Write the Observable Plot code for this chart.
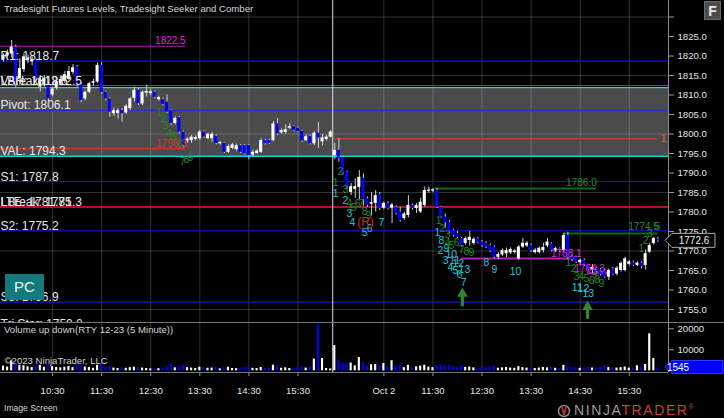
<!DOCTYPE html>
<html>
<head>
<meta charset="utf-8">
<script src="https://cdn.jsdelivr.net/npm/d3@7"></script>
<script src="https://cdn.jsdelivr.net/npm/@observablehq/plot@0.6"></script>
<style>
html,body{margin:0;padding:0;background:#000;}
#wrap{position:relative;width:724px;height:418px;background:#000;overflow:hidden;font-family:"Liberation Sans",Arial,sans-serif;}
#wrap > svg{position:absolute;left:0;}
.ov{position:absolute;white-space:nowrap;line-height:1;}
[aria-label="y-axis tick"] path,[aria-label="x-axis tick"] path,[aria-label="y-axis tick"],[aria-label="x-axis tick"]{stroke:#9a9a9a;}
</style>
</head>
<body>
<div id="wrap"></div>
<script>
// ---------------- DATA ----------------
const opens = [1819.0,1820.0,1820.5,1822.3,1814.2,1816.5,1818.8,1818.5,1818.8,1812.0,1812.5,1813.0,1810.0,1811.8,1812.8,1813.5,1814.0,1815.8,1817.1,1812.8,1809.0,1810.7,1813.0,1813.3,1817.6,1810.7,1809.0,1805.2,1805.3,1806.0,1805.4,1806.5,1809.1,1811.2,1807.7,1810.5,1810.4,1810.7,1808.8,1808.8,1808.2,1806.0,1802.7,1804.2,1800.5,1798.2,1798.3,1798.6,1798.8,1800.5,1798.8,1798.8,1799.4,1797.5,1797.6,1795.3,1796.3,1796.0,1797.0,1797.0,1797.0,1794.6,1795.0,1795.3,1798.3,1798.3,1798.3,1802.6,1800.3,1800.4,1801.5,1801.9,1801.5,1800.7,1798.3,1799.3,1797.5,1800.2,1798.0,1798.6,1799.2,
1794.5,1795.8,1794.0,1790.2,1785.0,1785.8,1786.3,1788.6,1783.4,1782.0,1782.2,1784.5,1781.0,1782.2,1781.0,1781.2,1780.0,1778.3,1779.1,1781.7,1780.9,1780.0,1781.7,1785.3,1785.4,1785.5,1781.2,1778.7,1777.4,1775.3,1774.5,1773.2,1771.9,1772.7,1771.9,1773.2,1772.3,1772.0,1771.4,1771.0,1768.4,1769.0,1769.3,1769.5,1769.6,1768.0,1771.0,1771.3,1771.4,1769.6,1769.6,1770.1,1771.3,1771.8,1770.0,1770.5,1770.1,1774.0,1768.5,1768.4,1767.0,1767.6,1766.3,1765.0,1765.6,1765.2,1765.0,1763.3,1765.4,1764.1,1765.0,1765.0,1766.6,1767.0,1766.3,1766.9,1766.3,1769.7,1771.9,1773.0];
const highs = [1820.5,1821.5,1824.0,1822.8,1819.3,1820.5,1820.2,1819.8,1819.2,1815.0,1815.0,1813.5,1812.0,1814.0,1815.0,1816.0,1817.3,1817.8,1817.6,1813.2,1811.0,1813.3,1814.0,1818.2,1818.3,1811.0,1809.3,1806.7,1806.5,1806.5,1807.5,1809.3,1812.0,1811.6,1811.0,1812.5,1811.5,1811.0,1809.7,1809.2,1810.0,1806.3,1804.4,1804.5,1800.8,1799.0,1799.6,1799.5,1800.9,1800.8,1800.2,1800.4,1799.8,1798.0,1797.8,1797.2,1797.6,1797.4,1797.3,1797.3,1797.3,1795.9,1796.0,1798.8,1798.6,1798.6,1803.2,1804.0,1801.3,1802.4,1802.7,1802.1,1801.8,1801.0,1799.8,1799.7,1800.6,1803.0,1799.9,1799.6,1800.9,
1797.6,1798.8,1794.3,1790.5,1787.3,1788.5,1790.6,1789.8,1783.8,1785.0,1785.5,1785.0,1782.6,1782.6,1782.2,1781.6,1781.2,1779.9,1784.2,1782.0,1782.2,1783.5,1786.4,1786.4,1786.0,1786.0,1781.5,1779.5,1777.8,1775.6,1775.0,1773.5,1773.6,1775.0,1773.4,1773.5,1772.7,1772.4,1771.8,1771.3,1769.6,1770.5,1770.7,1770.8,1770.4,1771.4,1773.2,1772.4,1771.8,1770.6,1771.0,1772.0,1773.2,1772.1,1771.0,1770.8,1774.6,1774.8,1769.0,1768.7,1767.9,1768.0,1766.6,1766.5,1765.9,1765.5,1765.3,1765.4,1765.8,1766.0,1767.2,1768.4,1767.6,1767.4,1767.2,1767.2,1770.3,1772.0,1773.5,1773.5];
const lows = [1818.5,1819.5,1819.5,1811.8,1812.5,1815.8,1818.0,1817.5,1813.5,1810.8,1812.0,1808.2,1809.5,1811.2,1812.4,1813.0,1813.7,1815.2,1812.0,1808.0,1808.5,1810.3,1812.3,1813.0,1810.3,1808.5,1804.3,1804.5,1803.8,1803.0,1805.0,1806.0,1808.2,1807.3,1807.3,1809.5,1809.8,1809.0,1808.4,1807.2,1805.2,1802.3,1802.3,1800.0,1796.4,1797.6,1797.6,1798.2,1798.3,1798.9,1798.5,1797.9,1797.2,1797.2,1795.0,1795.0,1796.0,1795.6,1795.0,1794.6,1793.4,1794.0,1794.8,1795.0,1797.2,1797.3,1798.0,1799.6,1800.0,1799.9,1801.1,1800.6,1800.3,1797.8,1798.0,1797.2,1797.0,1796.3,1796.9,1798.2,1799.0,
1793.4,1792.8,1789.5,1785.8,1784.2,1783.5,1783.2,1781.5,1781.2,1779.0,1780.0,1780.4,1780.6,1780.5,1777.0,1779.2,1777.4,1777.9,1778.5,1780.5,1779.6,1779.6,1781.2,1784.8,1785.0,1780.9,1778.3,1775.8,1774.4,1773.6,1773.2,1771.0,1771.5,1771.2,1771.5,1771.8,1771.0,1770.6,1769.6,1768.0,1767.8,1768.6,1768.3,1769.1,1769.2,1767.6,1770.6,1770.9,1769.7,1769.2,1769.2,1769.5,1770.8,1769.8,1769.6,1769.6,1769.6,1767.7,1767.3,1766.8,1766.2,1766.0,1764.9,1764.2,1764.4,1763.6,1763.0,1762.4,1763.7,1763.6,1764.6,1764.6,1766.2,1766.0,1766.0,1765.4,1765.1,1769.4,1771.5,1772.2];
const closes = [1820.0,1820.8,1822.3,1812.5,1816.8,1819.8,1819.5,1819.0,1814.0,1814.0,1814.2,1809.0,1811.5,1813.3,1814.0,1815.2,1816.0,1817.0,1812.5,1808.6,1810.7,1812.9,1813.4,1817.6,1810.7,1809.0,1805.6,1806.0,1806.0,1805.2,1807.1,1809.0,1811.2,1807.8,1810.7,1810.9,1810.8,1809.4,1809.3,1807.6,1805.6,1802.7,1804.0,1800.5,1797.0,1798.7,1799.2,1799.1,1800.5,1799.2,1799.9,1799.9,1797.6,1797.8,1795.3,1796.8,1797.2,1797.0,1795.3,1794.9,1794.5,1795.3,1795.6,1798.3,1797.5,1797.6,1802.6,1800.0,1800.9,1801.1,1801.9,1800.9,1800.6,1798.2,1799.3,1797.5,1800.2,1799.0,1799.0,1799.2,1800.5,
1795.8,1793.6,1790.0,1786.4,1786.5,1786.5,1788.9,1783.2,1781.7,1782.4,1784.2,1780.9,1782.2,1780.9,1781.8,1779.6,1777.8,1779.5,1781.7,1780.9,1781.7,1782.5,1785.5,1785.6,1785.7,1781.2,1778.7,1777.2,1774.8,1774.0,1773.5,1771.4,1773.2,1773.5,1773.0,1772.2,1771.4,1771.0,1770.0,1768.4,1769.1,1770.1,1770.1,1770.4,1770.0,1771.0,1772.0,1772.0,1770.1,1770.2,1770.7,1770.9,1772.3,1770.1,1770.6,1770.0,1774.0,1768.4,1767.8,1767.1,1767.6,1766.3,1765.2,1765.8,1764.7,1764.0,1763.3,1765.0,1764.0,1765.6,1766.8,1768.0,1767.2,1766.3,1766.9,1766.0,1769.3,1771.4,1773.2,1772.6];
const volumes = [2200,1800,4700,3200,2600,2400,1900,1500,2300,2600,1700,2800,1900,1600,1400,1700,2100,1500,2900,2400,1800,1600,1200,2600,2700,1500,2100,1300,1100,1400,1200,1500,1700,1500,1300,1100,900,1200,1000,1300,2000,3500,1400,2300,2800,1500,1300,1100,1700,1400,1200,1300,1600,900,1800,1700,1100,1000,1300,1500,2000,1200,1100,1600,1200,1300,2700,2200,1200,1400,1100,1300,1400,1900,1300,2000,5600,21900,5900,1100,900,
12000,4800,3700,3600,3700,2400,6300,3700,2200,2900,3000,2300,3500,2000,4800,2300,2600,1500,2600,1600,1900,2200,2700,1800,1500,2800,2500,2200,2600,2000,1700,2400,1600,1800,1400,1300,1600,1500,1700,2300,1200,1400,1600,1300,1200,2000,1500,1300,1400,1100,1300,1600,1400,1500,1200,1000,2600,2400,1500,1600,1200,1500,1700,1300,1400,1600,2400,1500,1400,1300,1500,1800,1300,1200,2400,1900,3000,17600,5900,1545];

// time axis
const tickIdx = [12,24,36,48,60,72,93,105,117,129,141,153];
const tickLabels = ["10:30","11:30","12:30","13:30","14:30","15:30","Oct 2","11:30","12:30","13:30","14:30","15:30"];
const sessionBreak = [80.5];
const yTickValues = [1755,1760,1765,1770,1775,1780,1785,1790,1795,1800,1805,1810,1815,1820,1825,1830];
const yTickLabels = ["1755.0","1760.0","1765.0","1770.0","1775.0","1780.0","1785.0","1790.0","1795.0","1800.0","1805.0","1810.0","1815.0","1820.0","1825.0",""];
const gridPrices = [1755,1770,1785,1800,1815,1830];
const volTickValues = [10000,20000];
const volTickLabels = ["10000","20000"];

// full width levels
const levelPrice = [1818.7,1812.4,1811.9,1806.1,1794.3,1787.8,1781.3,1775.2,1756.9];
const levelColor = ["#1010ee","#9a3a9a","#00e0e8","#3030c8","#00e0e8","#1818c0","#e8173e","#1818d0","#1818d0"];
const levelWidth = [1.2,1,1.3,2,1.3,1,1.6,1,1.2];
const levelLabel = ["R1: 1818.7","VAH: 1812.5","LBreak: 1812.5","Pivot: 1806.1","VAL: 1794.3","S1: 1787.8","LBreak: 1781.3","LTE: 1781.75","S2: 1775.2","S3: 1756.9","Tri Star: 1750.0"];
const levelLabelPrice = [1818.7,1812.4,1812.4,1806.1,1794.3,1787.8,1781.3,1781.3,1775.2,1756.9,1750.0];
const valueArea = [1794.3, 1811.9];
// partial segments
const segPrice = [1822.5,1796.3,1798.8,1786.0,1774.5,1768.1,1764.3];
const segFrom = [-0.8,-0.8,81,105.5,137,112,142.8];
const segTo = [44.5,44.5,160,145,160,140,147.7];
const segColor = ["#b01cb0","#c83030","#c83a3a","#0f6a12","#0f6a12","#b21fb2","#c21fc2"];
const segDash = ["1.5,1.5",null,null,null,null,"2,2","2,1"];
const segWidth = [1.2,2,1.5,2,2,2,2];
// value labels
const valText = ["1822.5","1796.3","1786.0","1774.5","1768.1","1764.3","1"];
const valIdx = [40.8,41.1,141.3,156.5,137.6,143.3,161.4];
const valPrice = [1824.0,1797.6,1787.6,1776.3,1769.4,1765.5,1798.8];
const valColor = ["#e020e0","#e23030","#2a8a2a","#2a8a2a","#e020e0","#e020e0","#e07020"];
// counts
const greenText = ["1","2","3","4","5","6","7","8","9", "2","1","3","4","5","6","7","8","9", "1","2","3","4","5","6","7","8","9", "1","2","3","4","5","6","7","8","9", "1","2","3","5"];
const greenIdx = [38.1,39.1,39.6,40.6,41.6,43.3,43.8,44.7,45.7, 82.4,81.2,83.6,84.6,85.6,86.6,87.5,88.3,89.2, 106.4,107.3,108.6,108.6,109.5,110.8,112.0,113.2,114.4, 138.1,139.4,140.1,141.3,142.5,143.8,144.5,145.2,146.2, 156.0,157.0,158.0,159.9];
const greenPrice = [1805.5,1804.0,1802.2,1800.1,1799.4,1797.3,1793.0,1793.5,1794.0, 1790.4,1787.6,1785.8,1782.2,1781.2,1782.2,1782.2,1780.1,1779.1, 1777.8,1775.8,1774.2,1772.2,1771.4,1772.2,1770.4,1769.9,1769.6, 1767.1,1765.5,1763.5,1763.5,1763.0,1762.4,1763.0,1762.7,1761.7, 1770.6,1772.7,1774.5,1776.3];
const cyanText = ["1","2","3","4","5","6","7", "1","8","2","9","10","3","11","4","5","6","12","13","7","8","9","10", "11","12","13"];
const cyanIdx = [81.2,83.6,84.6,85.3,88.3,89.5,92.4, 106.1,107.1,106.8,108.3,109.5,108.1,110.3,109.3,110.5,111.5,111.2,112.7,112.5,118.1,120.0,125.2, 140.3,141.8,143.0];
const cyanPrice = [1784.7,1783.0,1779.6,1777.3,1774.7,1775.8,1777.3, 1774.7,1772.7,1770.1,1770.6,1769.1,1767.6,1767.6,1765.8,1765.0,1764.0,1766.8,1765.3,1761.9,1767.1,1765.3,1764.7, 1760.6,1760.4,1759.1];
const resetText = ["(R)"], resetIdx = [88.5], resetPrice = [1777.3];
// signal arrows
const arrowIdx = [112.2, 142.8];
const arrowFrom = [1755.8, 1752.6];
const arrowTo = [1759.3, 1755.9];
const lastPrice = 1772.6;
const lastVolume = 1545;

// ---------------- LAYOUT ----------------
const W = 724, PRICE_H = 322, AXIS_X = 668, BAR = 4.09, X0 = 3;
const xDomain = [-X0 / BAR, (AXIS_X - X0) / BAR];
const yDomain = [1825 - (PRICE_H - 36) / 3.9, 1825 + 36 / 3.9];
const volDomain = [-810, 23000];
const UP = "#ffffff", DOWN = "#0000ff";
const FONT = "Liberation Sans, Arial, sans-serif";

const bars = opens.map((o, i) => ({i, open: o, high: highs[i], low: lows[i], close: closes[i], vol: volumes[i], color: closes[i] >= o ? UP : DOWN}));
const levels = levelPrice.map((p, k) => ({p, c: levelColor[k], w: levelWidth[k]}));
const lvlLabels = levelLabel.map((t, k) => ({t, p: levelLabelPrice[k]}));
const segs = segPrice.map((p, k) => ({p, a: segFrom[k], b: segTo[k], c: segColor[k], d: segDash[k], w: segWidth[k]}));
const vals = valText.map((t, k) => ({t, x: valIdx[k], y: valPrice[k], c: valColor[k]}));
const greens = greenText.map((t, k) => ({t, x: greenIdx[k], y: greenPrice[k]}));
const cyans = cyanText.map((t, k) => ({t, x: cyanIdx[k], y: cyanPrice[k]}));
const resets = resetText.map((t, k) => ({t, x: resetIdx[k], y: resetPrice[k]}));
const arrows = arrowIdx.map((x, k) => ({x, y1: arrowFrom[k], y2: arrowTo[k]}));

const price = Plot.plot({
  width: W, height: PRICE_H,
  marginTop: 0, marginBottom: 0, marginLeft: 0, marginRight: W - AXIS_X,
  x: {domain: xDomain, axis: null},
  y: {domain: yDomain, axis: "right", ticks: yTickValues, tickFormat: d => yTickLabels[yTickValues.indexOf(d)], tickSize: 5, tickPadding: 4, label: null},
  color: {type: "identity"},
  style: {background: "#000", color: "#e4e4e4", fontFamily: FONT, fontSize: "9.6px", overflow: "hidden"},
  marks: [
    Plot.rect([0], {x1: xDomain[0], x2: xDomain[1], y1: valueArea[0], y2: valueArea[1], fill: "#4b4b4b"}),
    Plot.ruleX(tickIdx, {stroke: "#fff", strokeOpacity: 0.19}),
    Plot.ruleY(gridPrices, {x1: xDomain[0], x2: xDomain[1], stroke: "#fff", strokeOpacity: 0.19}),
    Plot.ruleY(levels, {y: "p", x1: xDomain[0], x2: xDomain[1], stroke: "c", strokeWidth: "w"}),
    Plot.ruleY(segs, {y: "p", x1: "a", x2: "b", stroke: "c", strokeWidth: "w", strokeDasharray: d => d.d}),
    Plot.ruleX(sessionBreak, {stroke: "#e0e0e0"}),
    Plot.ruleX(bars, {x: "i", y1: "low", y2: "high", stroke: "#cfcfcf", strokeWidth: 1}),
    Plot.rect(bars, {x1: d => d.i - 0.37, x2: d => d.i + 0.37, y1: "open", y2: "close", fill: "color"}),
    Plot.text(lvlLabels, {x: xDomain[0], y: "p", text: "t", textAnchor: "start", lineAnchor: "bottom", dy: -1, fill: "#e6e6e6", fontSize: 12}),
    Plot.text(vals, {x: "x", y: "y", text: "t", fill: "c", fontSize: 10}),
    Plot.text(greens, {x: "x", y: "y", text: "t", fill: "#1f8a1f", fontSize: 10.5}),
    Plot.text(cyans, {x: "x", y: "y", text: "t", fill: "#19c9d8", fontSize: 10.5}),
    Plot.text(resets, {x: "x", y: "y", text: "t", fill: "#e01818", fontSize: 12}),
    Plot.link(arrows, {x1: "x", x2: "x", y1: "y1", y2: "y2", stroke: "#2f8a2f", strokeWidth: 3}),
    Plot.dot(arrows, {x: "x", y: "y2", symbol: "triangle", r: 4, fill: "#2f8a2f", dy: 1}),
    Plot.ruleX([xDomain[1]], {stroke: "#8a8a8a"})
  ]
});
price.style.top = "0px";

const vol = Plot.plot({
  width: W, height: 418 - PRICE_H,
  marginTop: 0, marginBottom: 46, marginLeft: 0, marginRight: W - AXIS_X,
  x: {domain: xDomain, ticks: tickIdx, tickFormat: d => tickLabels[tickIdx.indexOf(d)], tickSize: 4, tickPadding: 11, label: null},
  y: {domain: volDomain, axis: "right", ticks: volTickValues, tickFormat: d => volTickLabels[volTickValues.indexOf(d)], tickSize: 5, tickPadding: 4, label: null},
  color: {type: "identity"},
  style: {background: "#000", color: "#e4e4e4", fontFamily: FONT, fontSize: "9.6px", overflow: "hidden"},
  marks: [
    Plot.ruleX(tickIdx, {stroke: "#fff", strokeOpacity: 0.19}),
    Plot.ruleX(sessionBreak, {stroke: "#e0e0e0"}),
    Plot.text(["©2023 NinjaTrader, LLC"], {frameAnchor: "bottom-left", dx: 4, dy: -9, textAnchor: "start", fill: "#cfcfcf", fontSize: 9.6}),
    Plot.rect(bars, {x1: d => d.i - 0.26, x2: d => d.i + 0.26, y1: 0, y2: "vol", fill: "color"}),
    Plot.ruleY([volDomain[0]], {x1: xDomain[0], x2: xDomain[1], stroke: "#777"}),
    Plot.ruleY([volDomain[1]], {x1: xDomain[0], x2: W, stroke: "#777"}),
    Plot.ruleX([xDomain[1]], {stroke: "#8a8a8a"})
  ]
});
vol.style.top = PRICE_H + "px";

const wrap = document.getElementById("wrap");
wrap.appendChild(price);
wrap.appendChild(vol);

// price marker
const py = price.scale("y").apply(lastPrice);
const ps = d3.select(price);
ps.append("path").attr("d", `M665,${py} L672,${py - 7} H715 V${py + 7} H672 Z`).attr("fill", "#000").attr("stroke", "#a8a8a8");
ps.append("text").attr("x", 694).attr("y", py).attr("dy", "0.36em").attr("text-anchor", "middle").attr("fill", "#f0f0f0").attr("font-size", 10).text(lastPrice.toFixed(1));
// volume marker
const vy = vol.scale("y").apply(lastVolume);
const vs = d3.select(vol);
vs.append("path").attr("d", `M665,${vy} L672,${vy - 6.5} H723 V${vy + 6.5} H672 Z`).attr("fill", "#0000ff").attr("stroke", "#3a3aff");
vs.append("text").attr("x", 678).attr("y", vy).attr("dy", "0.36em").attr("fill", "#fff").attr("font-size", 10).text(String(lastVolume));

function ov(html, css) {
  const d = document.createElement("div");
  d.className = "ov";
  d.innerHTML = html;
  Object.assign(d.style, css);
  wrap.appendChild(d);
  return d;
}
ov("Tradesight Futures Levels, Tradesight Seeker and Comber", {left: "4px", top: "4px", fontSize: "9.6px", color: "#d6d6d6"});
ov("F", {left: "704px", top: "1px", width: "17px", height: "19px", lineHeight: "19px", textAlign: "center", background: "#4c4c4c", border: "1px solid #6a6a6a", color: "#e8e8e8", fontSize: "14px", fontWeight: "bold", boxSizing: "border-box"});
ov("PC", {left: "5px", top: "274px", width: "39px", height: "26px", lineHeight: "26px", textAlign: "center", background: "#127a7a", color: "#eef6f6", fontSize: "15px"});
ov("Volume up down(RTY 12-23 (5 Minute))", {left: "4px", top: "325px", fontSize: "9.6px", color: "#d4d4d4"});
ov("Image Screen", {left: "4px", top: "404px", fontSize: "8.6px", color: "#d4d4d4"});
ov('<svg width="14" height="14" style="vertical-align:middle"><circle cx="7" cy="7" r="5.5" fill="none" stroke="#8a8a8a" stroke-width="1.5"/><path d="M5,3 L7,11 L9,3" fill="none" stroke="#c0392b" stroke-width="1.6"/></svg>', {left: "557px", top: "402px"});
ov('<span style="color:#9a9a9a">NINJA</span><span style="color:#c8452e">TRADER</span><sup style="font-size:7px;color:#c8452e">®</sup>', {left: "574px", top: "403px", fontSize: "14px", letterSpacing: "1.6px"});
</script>
</body>
</html>
